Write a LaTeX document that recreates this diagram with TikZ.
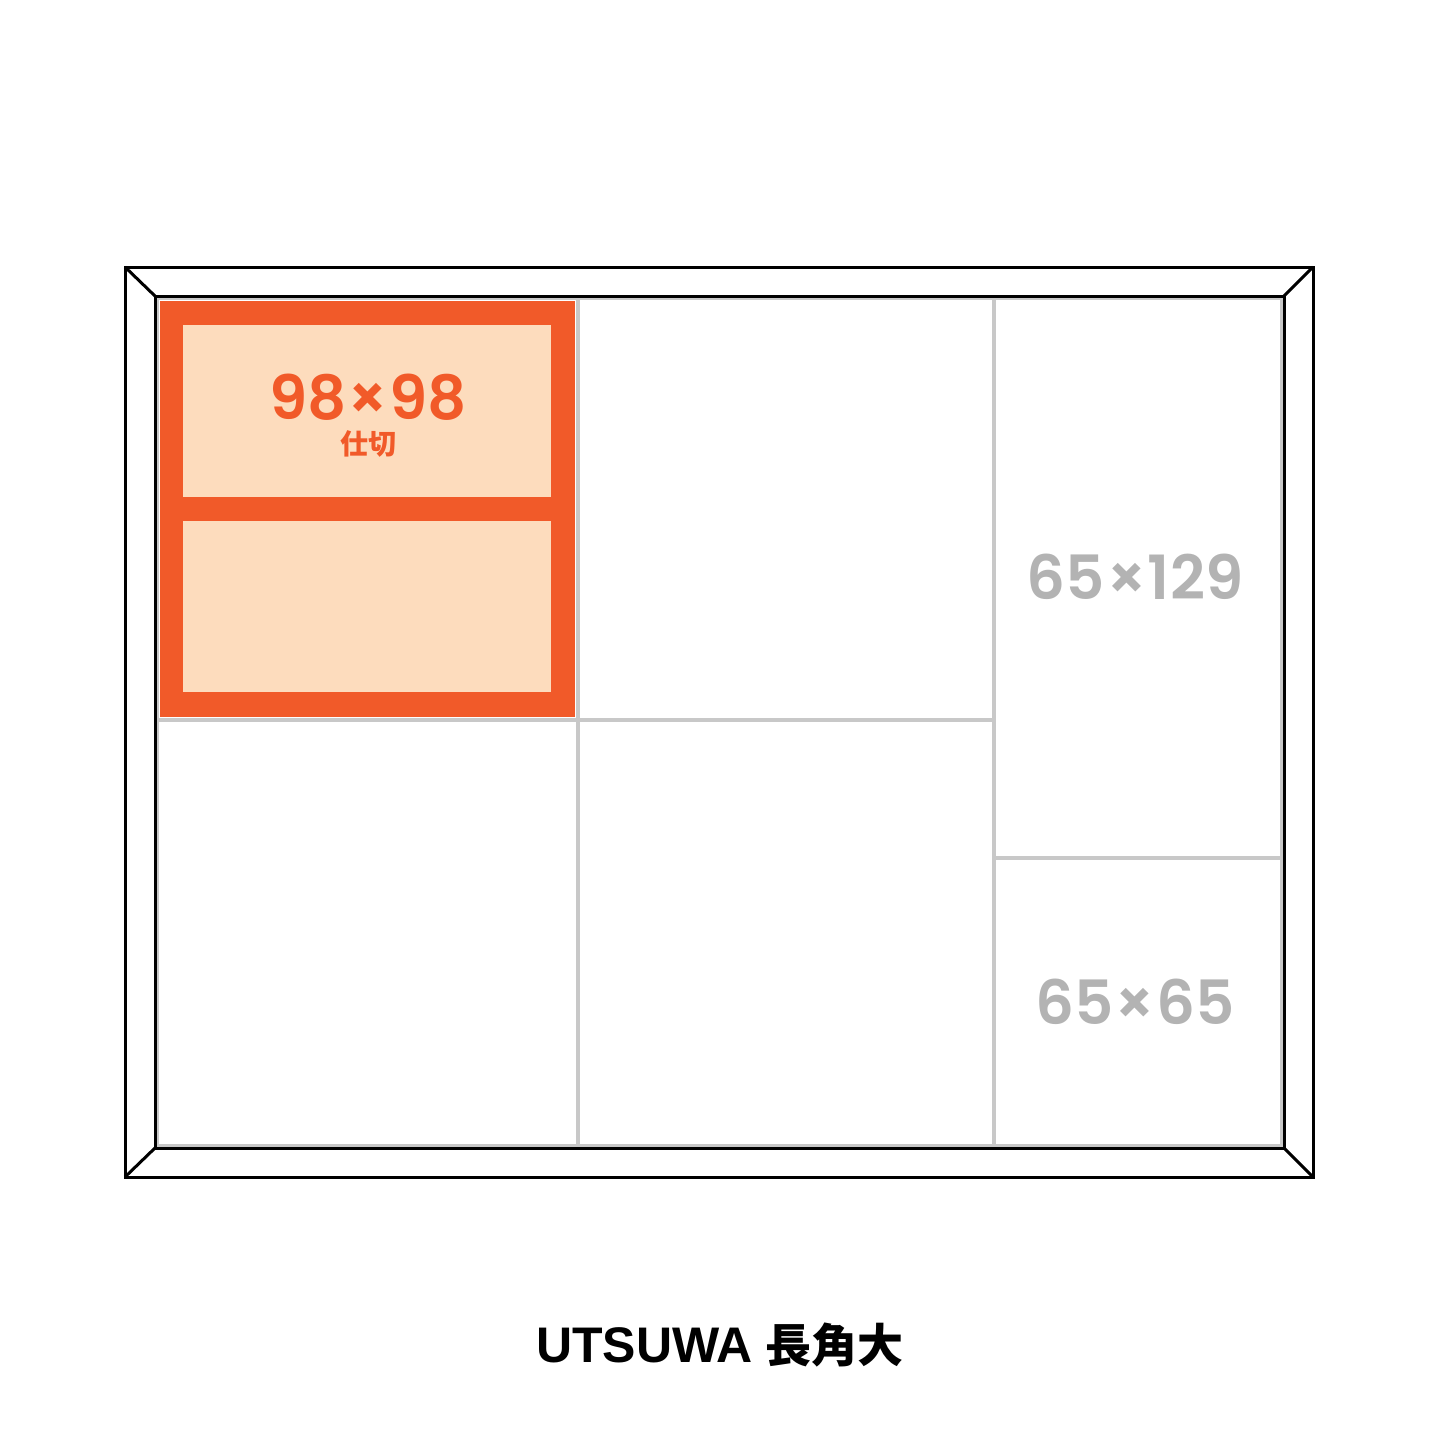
\documentclass[tikz,border=0pt]{standalone}
\usepackage{fontspec}
\setmainfont{Liberation Sans}
\newfontfamily\numfont{Poppins}[BoldFont={* SemiBold}]
\newfontfamily\jpfont{Noto Sans CJK JP}
\definecolor{trayorange}{HTML}{F15A29}
\definecolor{traypeach}{HTML}{FDDCBD}
\definecolor{traygrey}{HTML}{C8C8C8}
\definecolor{labelgrey}{HTML}{B3B3B3}
\tikzset{
  frameline/.style={line width=3pt, black},
  gridline/.style={line width=3.5pt, traygrey},
  sizelabel/.style={font=\numfont\bfseries\fontsize{61}{61}\selectfont, inner sep=0pt},
}
\newcommand{\bytimes}{\kern1pt×\kern1pt}
\begin{document}
\begin{tikzpicture}[x=1pt, y=-1pt]
\useasboundingbox (0,0) rectangle (1445,1445);
%仕切 (orange block)
\fill[trayorange] (160,301) rectangle (575,717);
\fill[traypeach] (183,325) rectangle (551,497);
\fill[traypeach] (183,521) rectangle (551,692);
% Grid
\draw[gridline] (157,298) rectangle (1282,1146);
\draw[gridline] (578,298) -- (578,1146);
\draw[gridline] (994,298) -- (994,1146);
\draw[gridline] (157,720) -- (994,720);
\draw[gridline] (994,858) -- (1282,858);
% Frame
\draw[frameline] (125,267) rectangle (1313,1177);
\draw[frameline] (155,296) rectangle (1284,1148);
\foreach \ox/\oy/\ix/\iy in {125/267/155/296, 1313/267/1284/296, 125/1177/155/1148, 1313/1177/1284/1148} {
    \draw[frameline] (\ox,\oy) -- (\ix,\iy);
}
% Labels
\node[sizelabel, text=trayorange] (partsize) at (368,397) {98\bytimes98};
\node[font=\jpfont\bfseries\fontsize{28}{28}\selectfont, text=trayorange, inner sep=0pt, text height=22pt, text depth=2pt] (partname) at (368,444) {仕切};
\node[sizelabel, text=labelgrey] (tallsize) at (1135,577) {65\bytimes129};
\node[sizelabel, text=labelgrey] (smallsize) at (1135,1002) {65\bytimes65};
% Title
\node[font=\bfseries\fontsize{50}{50}\selectfont, inner sep=0pt] (title) at (720,1345) {UTSUWA\hspace{13pt}{\jpfont\fontsize{46}{46}\selectfont 長角大}};
\end{tikzpicture}
\end{document}
